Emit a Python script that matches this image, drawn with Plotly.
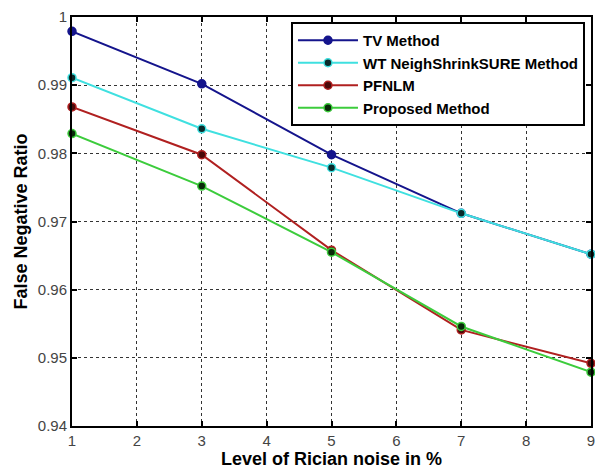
import plotly.graph_objects as go

noise_levels = [1, 3, 5, 7, 9]
tv_method = [0.9979, 0.9902, 0.9798, 0.9712, 0.9652]
wt_neighshrink = [0.9911, 0.9836, 0.9779, 0.9712, 0.9652]
pfnlm = [0.9868, 0.9798, 0.9658, 0.9541, 0.9492]
proposed = [0.9829, 0.9752, 0.9655, 0.9546, 0.9479]

x_ticks = [1, 2, 3, 4, 5, 6, 7, 8, 9]
y_ticks = [0.94, 0.95, 0.96, 0.97, 0.98, 0.99, 1.0]
y_tick_labels = ["0.94", "0.95", "0.96", "0.97", "0.98", "0.99", "1"]

series = [
    ("TV Method", tv_method, "#14148c", "#14148c"),
    ("WT NeighShrinkSURE Method", wt_neighshrink, "#3fe0e0", "#0a2a2a"),
    ("PFNLM", pfnlm, "#b02020", "#4a0a0a"),
    ("Proposed Method", proposed, "#3ccc3c", "#0a2a0a"),
]

fig = go.Figure()
for name, vals, color, face in series:
    fig.add_trace(go.Scatter(
        x=noise_levels, y=vals, name=name, mode="lines+markers",
        line=dict(color=color, width=2),
        marker=dict(size=8, color=face, line=dict(color=color, width=1.5)),
        cliponaxis=False,
    ))

axis_common = dict(
    showline=True, linecolor="black", linewidth=2, mirror="ticks",
    ticks="inside", ticklen=5, tickcolor="black", tickwidth=1.5,
    showgrid=True, gridcolor="#333", griddash="dot", gridwidth=1,
    zeroline=False, ticklabeloverflow="allow",
    tickfont=dict(family="Arial, Liberation Sans", size=15, color="#444"),
)

fig.update_layout(
    width=595, height=470,
    paper_bgcolor="white", plot_bgcolor="white",
    margin=dict(l=72, r=4, t=17, b=44, autoexpand=False),
    font=dict(family="Arial, Liberation Sans"),
    showlegend=True,
    legend=dict(
        x=0.9884, y=0.9878, xanchor="right", yanchor="top",
        bgcolor="white", bordercolor="black", borderwidth=2,
        font=dict(family="Arial, Liberation Sans", size=15, color="black", weight="bold"),
        itemwidth=60, tracegroupgap=0,
    ),
    xaxis=dict(
        range=[1, 9], tickvals=x_ticks,
        title=dict(text="Level of Rician noise in %", standoff=3,
                   font=dict(size=18, color="black", weight="bold")),
        **axis_common,
    ),
    yaxis=dict(
        range=[0.94, 1.0], tickvals=y_ticks, ticktext=y_tick_labels,
        title=dict(text="False Negative Ratio", standoff=5,
                   font=dict(size=18, color="black", weight="bold")),
        **axis_common,
    ),
)

fig.write_html("out.html", config={"displayModeBar": False},
               post_script="document.body.style.margin='0';")
